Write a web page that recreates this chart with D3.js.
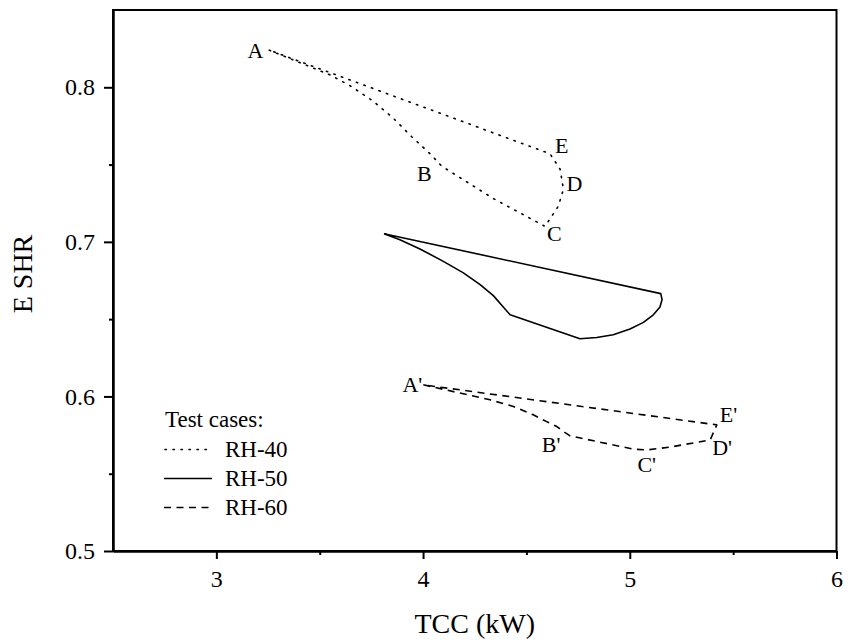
<!DOCTYPE html>
<html>
<head>
<meta charset="utf-8">
<script src="https://cdn.jsdelivr.net/npm/d3@7"></script>
<style>
  html, body { margin: 0; padding: 0; background: #fff; }
</style>
</head>
<body>
<svg id="chart" width="848" height="641"></svg>
<script>
// Axis ticks
const xMajorTicks = [3, 4, 5, 6];
const xMinorTicks = [3.5, 4.5, 5.5];
const yMajorTicks = [0.5, 0.6, 0.7, 0.8];
const yMinorTicks = [0.55, 0.65, 0.75];

// RH-40 loop: A -> B -> C -> D -> E -> A
const rh40TCC = [3.256, 3.550, 3.647, 3.759, 3.856, 3.945, 4.034, 4.090, 4.340, 4.590, 4.654, 4.679, 4.663, 4.614, 3.256];
const rh40SHR = [0.824, 0.808, 0.801, 0.791, 0.780, 0.768, 0.757, 0.749, 0.728, 0.710, 0.723, 0.734, 0.747, 0.757, 0.824];
const rh40Names = ["A", "B", "C", "D", "E"];
const rh40NameIdx = [0, 7, 9, 11, 13];

// RH-50 loop
const rh50TCC = [3.811, 5.150, 5.156, 5.146, 5.114, 5.066, 5.001, 4.920, 4.840, 4.759, 4.421, 4.388, 4.340, 4.276, 4.195, 4.098, 3.985, 3.888, 3.811];
const rh50SHR = [0.7053, 0.6665, 0.6626, 0.6578, 0.6528, 0.6479, 0.6436, 0.6399, 0.6381, 0.6373, 0.6528, 0.6578, 0.6652, 0.6723, 0.6799, 0.6874, 0.6954, 0.7014, 0.7053];

// RH-60 loop: A' -> B' -> C' -> D' -> E' -> A'
const rh60TCC = [4.001, 4.324, 4.437, 4.533, 4.598, 4.647, 4.679, 4.711, 5.017, 5.082, 5.195, 5.389, 5.421, 4.001];
const rh60SHR = [0.6075, 0.5978, 0.5935, 0.5881, 0.5837, 0.5805, 0.5773, 0.5745, 0.5659, 0.5654, 0.5672, 0.5719, 0.5816, 0.6075];
const rh60Names = ["A'", "B'", "C'", "D'", "E'"];
const rh60NameIdx = [0, 6, 9, 11, 12];

const legendTitle = "Test cases:";
const seriesNames = ["RH-40", "RH-50", "RH-60"];

const W = 848, H = 641;
const margin = { left: 113, top: 10, right: 11.5, bottom: 90 };
const pw = W - margin.left - margin.right;
const ph = H - margin.top - margin.bottom;

const svg = d3.select("#chart");
const g = svg.append("g").attr("transform", `translate(${margin.left},${margin.top})`);

const x = d3.scaleLinear().domain([2.5, 6]).range([0, pw]);
const y = d3.scaleLinear().domain([0.5, 0.85]).range([ph, 0]);

// Line styles per series
const styles = [
  { dash: "1.4,6.6", cap: "round", width: 1.6 },
  { dash: null, cap: "butt", width: 1.6 },
  { dash: "7,5.5", cap: "butt", width: 1.6 }
];

// Frame
g.append("rect")
  .attr("x", 0).attr("y", 0).attr("width", pw).attr("height", ph)
  .attr("fill", "none").attr("stroke", "#000").attr("stroke-width", 2);

// Axes
const fmtY = d3.format(".1f");
const xAxis = g.append("g").attr("transform", `translate(0,${ph})`)
  .call(d3.axisBottom(x).tickValues(xMajorTicks).tickSize(8).tickSizeOuter(0).tickPadding(11).tickFormat(d3.format("d")));
const xMinor = g.append("g").attr("transform", `translate(0,${ph})`)
  .call(d3.axisBottom(x).tickValues(xMinorTicks).tickSize(4).tickSizeOuter(0).tickFormat(""));
const yAxis = g.append("g")
  .call(d3.axisLeft(y).tickValues(yMajorTicks).tickSize(9).tickSizeOuter(0).tickPadding(9).tickFormat(fmtY));
const yMinor = g.append("g")
  .call(d3.axisLeft(y).tickValues(yMinorTicks).tickSize(4).tickSizeOuter(0).tickFormat(""));

[xAxis, xMinor, yAxis, yMinor].forEach(a => {
  a.attr("font-family", null).attr("font-size", null);
  a.select(".domain").attr("stroke", "#000").attr("stroke-width", 2);
  a.selectAll(".tick line").attr("stroke", "#000").attr("stroke-width", 2);
  a.selectAll(".tick text").attr("font-size", 24).attr("fill", "#000");
});

// Axis titles
svg.append("text")
  .attr("x", margin.left + pw / 2).attr("y", 633)
  .attr("text-anchor", "middle").attr("font-size", 28)
  .text("TCC (kW)");
svg.append("text")
  .attr("transform", `translate(32,${274}) rotate(-90)`)
  .attr("text-anchor", "middle").attr("font-size", 28)
  .text("E SHR");

// Loops
const line = d3.line().x(d => x(d[0])).y(d => y(d[1]));
const seriesPts = [
  d3.zip(rh40TCC, rh40SHR),
  d3.zip(rh50TCC, rh50SHR),
  d3.zip(rh60TCC, rh60SHR)
];
seriesPts.forEach((pts, i) => {
  const s = styles[i];
  g.append("path")
    .datum(pts)
    .attr("d", line)
    .attr("fill", "none")
    .attr("stroke", "#000")
    .attr("stroke-width", s.width)
    .attr("stroke-linecap", s.cap)
    .attr("stroke-linejoin", "round")
    .attr("stroke-dasharray", s.dash);
});

// State-point labels (offsets in px from the point)
const rh40Off = [
  { dx: -6, dy: 8, anchor: "end" },
  { dx: -10, dy: 15, anchor: "end" },
  { dx: 2, dy: 15, anchor: "start" },
  { dx: 3, dy: 2, anchor: "start" },
  { dx: 5, dy: -1, anchor: "start" }
];
const rh60Off = [
  { dx: -1, dy: 7, anchor: "end" },
  { dx: -3, dy: 20, anchor: "end" },
  { dx: 0, dy: 22, anchor: "middle" },
  { dx: 2, dy: 15, anchor: "start" },
  { dx: 3, dy: -3, anchor: "start" }
];
function drawNames(names, idx, xs, ys, offs) {
  names.forEach((n, k) => {
    const i = idx[k], o = offs[k];
    g.append("text")
      .attr("x", x(xs[i]) + o.dx)
      .attr("y", y(ys[i]) + o.dy)
      .attr("text-anchor", o.anchor)
      .attr("font-size", 22)
      .text(n);
  });
}
drawNames(rh40Names, rh40NameIdx, rh40TCC, rh40SHR, rh40Off);
drawNames(rh60Names, rh60NameIdx, rh60TCC, rh60SHR, rh60Off);

// Legend
const legend = svg.append("g").attr("transform", "translate(164,427)");
legend.append("text").attr("x", 1).attr("y", 0).attr("font-size", 23).text(legendTitle);
seriesNames.forEach((name, i) => {
  const s = styles[i];
  const ly = 22.5 + i * 29;
  legend.append("line")
    .attr("x1", s.cap === "round" ? 1 : 0).attr("x2", 48)
    .attr("y1", ly).attr("y2", ly)
    .attr("stroke", "#000").attr("stroke-width", s.width)
    .attr("stroke-linecap", s.cap)
    .attr("stroke-dasharray", s.dash);
  legend.append("text")
    .attr("x", 61).attr("y", ly + 7.5)
    .attr("font-size", 23)
    .text(name);
});

// Serif face for every label
svg.selectAll("text")
  .attr("font-family", "Liberation Serif")
  .style("font-family", "'Liberation Serif'");
</script>
</body>
</html>
